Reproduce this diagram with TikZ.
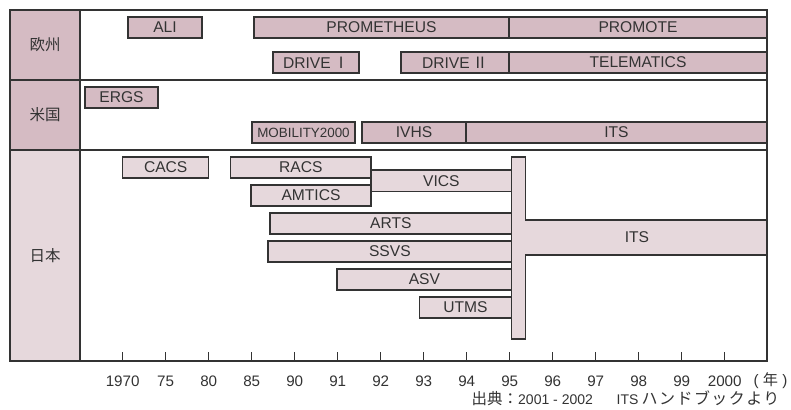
\documentclass[tikz,border=0pt]{standalone}
\usepackage{fontspec}
\setmainfont{Liberation Sans}
\newfontfamily\jpfont{Noto Sans CJK JP}
\definecolor{ink}{HTML}{333333}
\definecolor{eufill}{HTML}{D5BBC3}
\definecolor{jpfill}{HTML}{E6D8DC}

\tikzset{
  frameline/.style={draw=ink, line width=2pt},
  barbase/.style={draw=ink, line width=1.4pt, inner sep=0pt, text=ink,
    font=\fontsize{15.6}{18}\selectfont},
  eubar/.style={barbase, fill=eufill},
  jpbar/.style={barbase, fill=jpfill},
  barlabel/.style={inner sep=0pt, text=ink, font=\fontsize{15.6}{18}\selectfont},
  rowlabel/.style={text=ink, font=\jpfont\fontsize{15.5}{18}\selectfont},
  tickline/.style={draw=ink, line width=1.4pt},
  ticklabel/.style={text=ink, inner sep=0pt, font=\fontsize{15.2}{18}\selectfont},
  note/.style={text=ink, inner sep=0pt, anchor=base west, font=\fontsize{14}{18}\selectfont},
  jpnote/.style={note, font=\jpfont\fontsize{15.5}{18}\selectfont},
}

% \tlbox{style}{name}{x1}{x2}{y1}{y2}{label}
\newcommand\tlbox[7]{%
  \node[#1, minimum width={#4-#3}, minimum height={#6-#5}]
    (#2) at ({(#3+#4)/2},{(#5+#6)/2}) {#7};}

\begin{document}
\begin{tikzpicture}[x=1pt, y=-1pt]
\useasboundingbox (0,0) rectangle (791,409);

% row header column
\fill[eufill] (10,10) rectangle (80,150);
\fill[jpfill] (10,150) rectangle (80,361);

% row headers
\node[rowlabel] (eu) at (45,45) {欧州};
\node[rowlabel] (us) at (45,115) {米国};
\node[rowlabel] (jp) at (45,255.5) {日本};

% Europe
\tlbox{eubar}{ali}{128}{202}{17}{38}{ALI}
\tlbox{eubar}{prometheus}{254}{509}{17}{38}{PROMETHEUS}
\tlbox{eubar}{promote}{509}{767}{17}{38}{PROMOTE}
\tlbox{eubar}{drive1}{273}{359}{52}{73}{DRIVE\,{\jpfont Ⅰ}}
\tlbox{eubar}{drive2}{401}{509}{52}{73}{DRIVE\,{\jpfont Ⅱ}}
\tlbox{eubar}{telematics}{509}{767}{52}{73}{TELEMATICS}

% United States
\tlbox{eubar}{ergs}{85}{158}{87}{108}{ERGS}
\tlbox{eubar, font=\fontsize{13.4}{16}\selectfont}{mobility}{252}{355}{122}{143}{MOBILITY2000}
\tlbox{eubar}{ivhs}{362}{466}{122}{143}{IVHS}
\tlbox{eubar}{usits}{466}{767}{122}{143}{ITS}

% Japan
\tlbox{jpbar}{cacs}{122.7}{208.7}{157}{178}{CACS}
\tlbox{jpbar}{racs}{230.7}{371}{157}{178}{RACS}
\tlbox{jpbar}{amtics}{251}{371}{185}{206}{AMTICS}
\tlbox{jpbar}{vics}{371}{511.7}{170}{191.7}{VICS}
\tlbox{jpbar}{arts}{270}{511.7}{213}{234}{ARTS}
\tlbox{jpbar}{ssvs}{268}{511.7}{241}{262}{SSVS}
\tlbox{jpbar}{asv}{337}{511.7}{269}{290}{ASV}
\tlbox{jpbar}{utms}{419.3}{511.7}{297}{318}{UTMS}

% Japanese ITS: vertical bar joined to the long arm
\draw[draw=ink, line width=1.4pt, fill=jpfill]
  (511.7,157) -- (525.3,157) -- (525.3,220) -- (767,220) -- (767,255)
  -- (525.3,255) -- (525.3,339) -- (511.7,339) -- cycle;
\node[barlabel] (jpits) at (637,237.5) {ITS};

% frame
\draw[frameline] (10,10) rectangle (767,361);
\draw[frameline] (80,10) -- (80,361);
\draw[frameline] (10,80) -- (767,80);
\draw[frameline] (10,150) -- (767,150);

% year axis
\foreach \i/\lab in {0/1970,1/75,2/80,3/85,4/90,5/91,6/92,7/93,8/94,9/95,10/96,11/97,12/98,13/99,14/2000}{
  \draw[tickline] ({122.7+43*\i},361) -- ({122.7+43*\i},352);
  \node[ticklabel] (yr\i) at ({122.7+43*\i},381) {\lab};
}
\node[ticklabel] (unit) at (770.5,380.5) {( {\jpfont 年} )};

% source
\node[jpnote] (src1) at (471.5,404) {出典：};
\node[note] (src2) at (518,404) {2001 - 2002};
\node[note] (src3) at (616.5,404) {ITS};
\node[jpnote, font=\jpfont\fontsize{16}{18}\selectfont\addfontfeature{LetterSpace=9}] (src4) at (641.5,404) {ハンドブックより};
\end{tikzpicture}
\end{document}
